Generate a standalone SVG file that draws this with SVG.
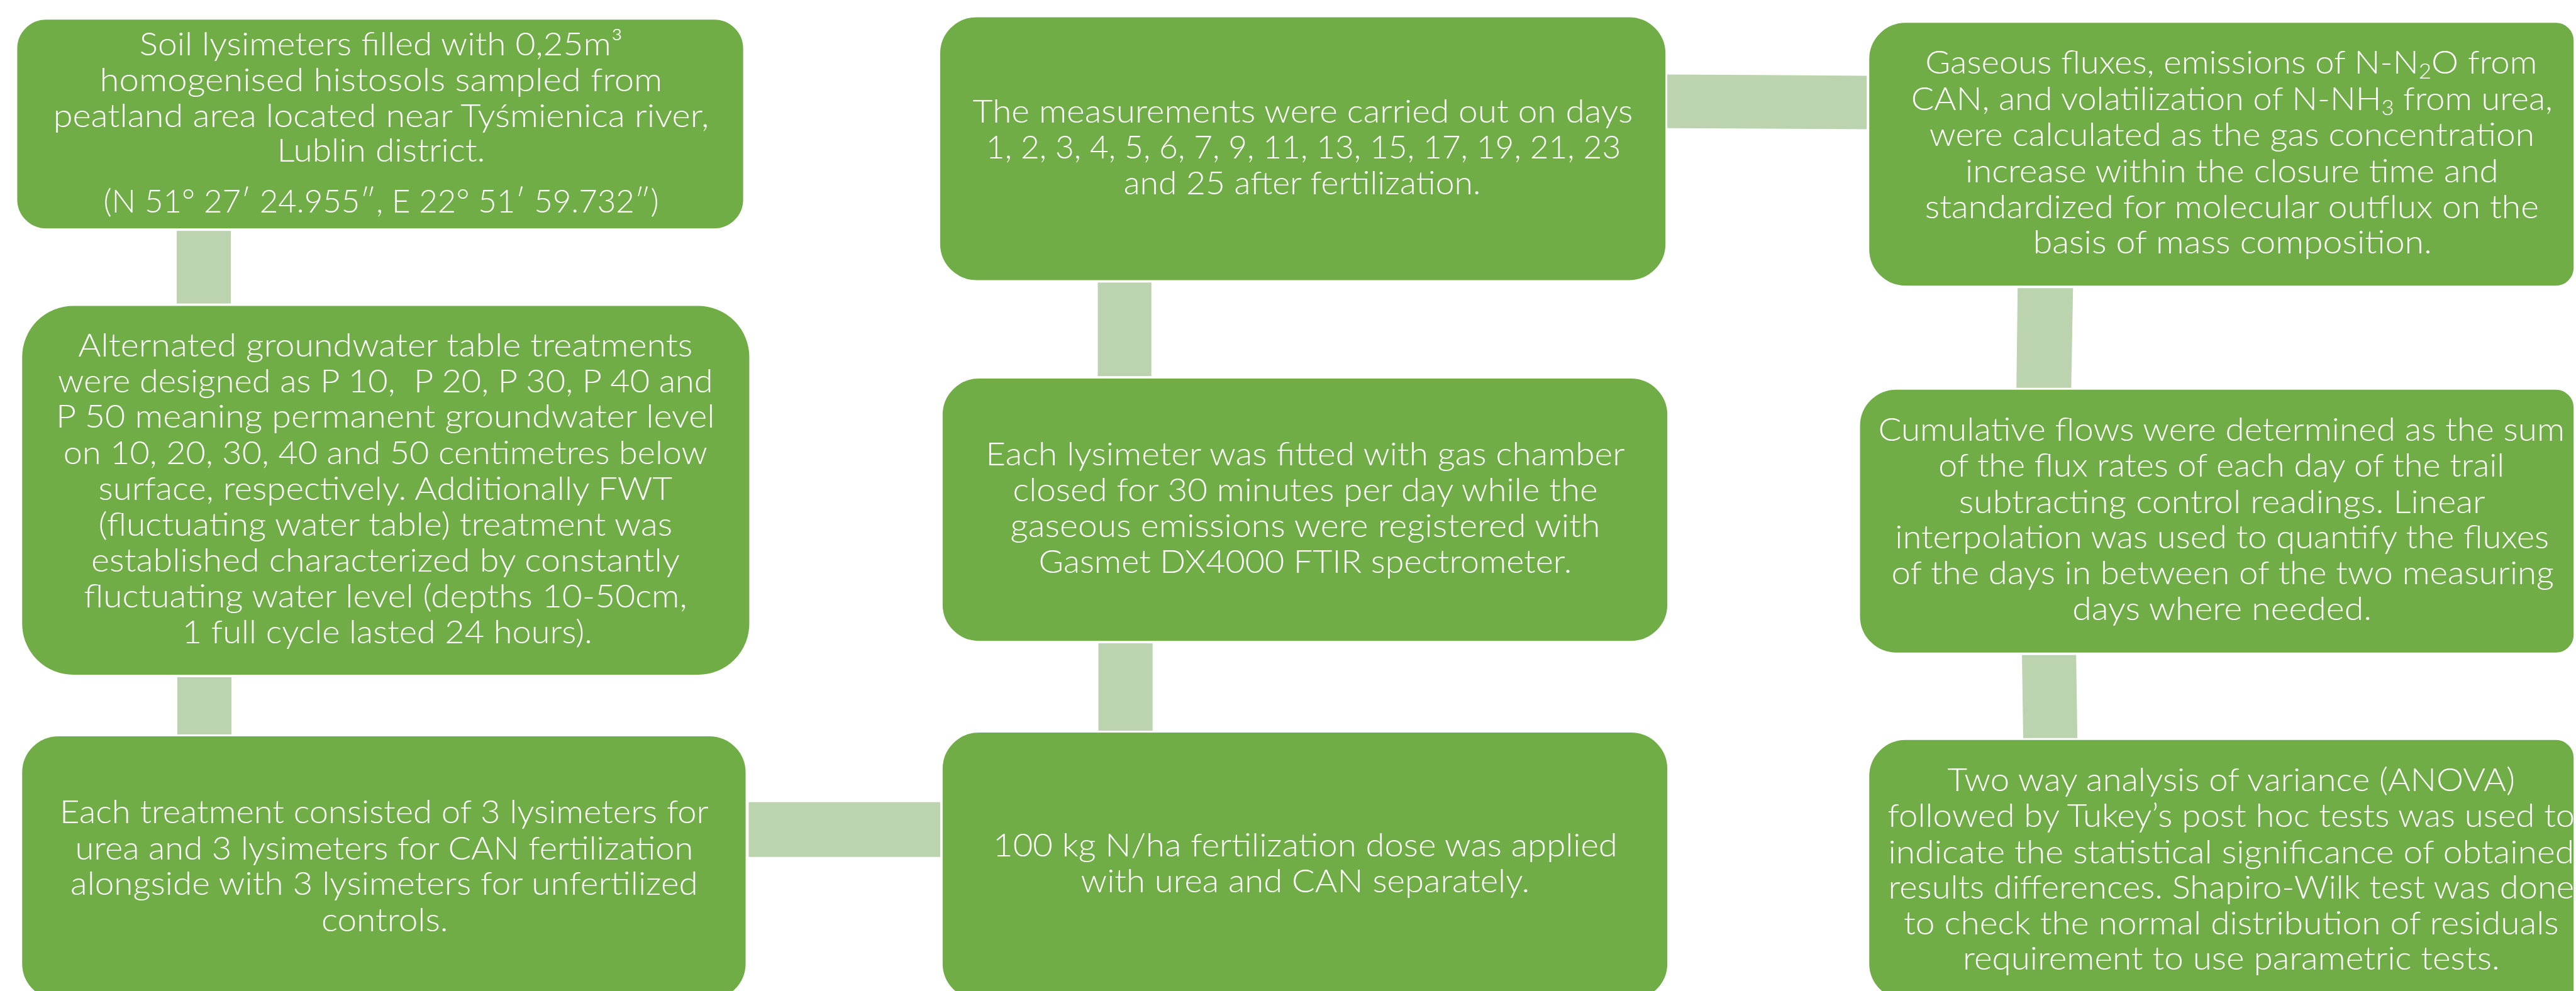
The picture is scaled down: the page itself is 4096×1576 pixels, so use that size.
<svg xmlns="http://www.w3.org/2000/svg" width="4096" height="1576" viewBox="0 0 4096 1576">
<style>
.box{fill:#70AD47;stroke:#ffffff;stroke-width:2}
.con{fill:#BCD3B0}
.t{font-family:Lato,"Open Sans","Liberation Sans",sans-serif;font-size:53px;font-weight:300;fill:#ffffff;text-anchor:middle}
.sub{font-size:34px}
</style>
<rect x="0" y="0" width="4096" height="1576" fill="#ffffff"/>
<g transform="scale(0.979)">
<g id="connectors">
<rect class="con" x="287" y="375" width="88" height="118"/>
<rect class="con" x="288" y="1100" width="88" height="93"/>
<rect class="con" x="1216" y="1303" width="311" height="89"/>
<rect class="con" x="1784" y="1045" width="88" height="142"/>
<rect class="con" x="1783" y="459" width="87" height="152"/>
<polygon class="con" points="2708,121 3032,123 3032,210 2708,208"/>
<polygon class="con" points="3277,468 3367,468 3364,630 3275,630"/>
<polygon class="con" points="3284,1064 3372,1064 3374,1199 3286,1199"/>
</g>
<g id="n1">
<rect class="box" x="27" y="31" width="1181" height="341" rx="48"/>
<text class="t" x="619" y="90" textLength="785" lengthAdjust="spacingAndGlyphs">Soil lysimeters filled with 0,25m³</text>
<text class="t" x="619" y="148" textLength="914" lengthAdjust="spacingAndGlyphs">homogenised histosols sampled from</text>
<text class="t" x="619" y="206" textLength="1065" lengthAdjust="spacingAndGlyphs">peatland area located near Tyśmienica river,</text>
<text class="t" x="619" y="263" textLength="338" lengthAdjust="spacingAndGlyphs">Lublin district.</text>
<text class="t" x="619" y="345" textLength="902" lengthAdjust="spacingAndGlyphs">(N 51° 27′ 24.955″, E 22° 51′ 59.732″)</text>
</g>
<g id="n2">
<rect class="box" x="35" y="496" width="1183" height="601" rx="84"/>
<text class="t" x="626" y="579" textLength="998" lengthAdjust="spacingAndGlyphs">Alternated groundwater table treatments</text>
<text class="t" x="626" y="637" textLength="1064" lengthAdjust="spacingAndGlyphs" xml:space="preserve">were designed as P 10,  P 20, P 30, P 40 and</text>
<text class="t" x="626" y="695" textLength="1070" lengthAdjust="spacingAndGlyphs">P 50 meaning permanent groundwater level</text>
<text class="t" x="626" y="754" textLength="1046" lengthAdjust="spacingAndGlyphs">on 10, 20, 30, 40 and 50 centimetres below</text>
<text class="t" x="626" y="812" textLength="932" lengthAdjust="spacingAndGlyphs">surface, respectively. Additionally FWT</text>
<text class="t" x="626" y="870" textLength="932" lengthAdjust="spacingAndGlyphs">(fluctuating water table) treatment was</text>
<text class="t" x="626" y="929" textLength="956" lengthAdjust="spacingAndGlyphs">established characterized by constantly</text>
<text class="t" x="626" y="987" textLength="980" lengthAdjust="spacingAndGlyphs">fluctuating water level (depths 10-50cm,</text>
<text class="t" x="629" y="1045" textLength="666" lengthAdjust="spacingAndGlyphs">1 full cycle lasted 24 hours).</text>
</g>
<g id="n3">
<rect class="box" x="35" y="1195" width="1177" height="430" rx="60"/>
<text class="t" x="624" y="1337" textLength="1054" lengthAdjust="spacingAndGlyphs">Each treatment consisted of 3 lysimeters for</text>
<text class="t" x="624" y="1396" textLength="1004" lengthAdjust="spacingAndGlyphs">urea and 3 lysimeters for CAN fertilization</text>
<text class="t" x="624" y="1454" textLength="1019" lengthAdjust="spacingAndGlyphs">alongside with 3 lysimeters for unfertilized</text>
<text class="t" x="625" y="1513" textLength="206" lengthAdjust="spacingAndGlyphs">controls.</text>
</g>
<g id="n4">
<rect class="box" x="1526" y="27" width="1180" height="429" rx="60"/>
<text class="t" x="2116" y="199" textLength="1072" lengthAdjust="spacingAndGlyphs">The measurements were carried out on days</text>
<text class="t" x="2117" y="257" textLength="1031" lengthAdjust="spacingAndGlyphs">1, 2, 3, 4, 5, 6, 7, 9, 11, 13, 15, 17, 19, 21, 23</text>
<text class="t" x="2115" y="316" textLength="580" lengthAdjust="spacingAndGlyphs">and 25 after fertilization.</text>
</g>
<g id="n5">
<rect class="box" x="1530" y="614" width="1179" height="428" rx="60"/>
<text class="t" x="2120" y="756" textLength="1038" lengthAdjust="spacingAndGlyphs">Each lysimeter was fitted with gas chamber</text>
<text class="t" x="2120" y="814" textLength="950" lengthAdjust="spacingAndGlyphs">closed for 30 minutes per day while the</text>
<text class="t" x="2120" y="872" textLength="958" lengthAdjust="spacingAndGlyphs">gaseous emissions were registered with</text>
<text class="t" x="2120" y="931" textLength="866" lengthAdjust="spacingAndGlyphs">Gasmet DX4000 FTIR spectrometer.</text>
</g>
<g id="n6">
<rect class="box" x="1530" y="1189" width="1179" height="436" rx="60"/>
<text class="t" x="2120" y="1391" textLength="1014" lengthAdjust="spacingAndGlyphs">100 kg N/ha fertilization dose was applied</text>
<text class="t" x="2120" y="1449" textLength="729" lengthAdjust="spacingAndGlyphs">with urea and CAN separately.</text>
</g>
<g id="n7">
<path class="box" d="M3095,36 H4151 A30,30 0 0 1 4181,66 V435 A30,30 0 0 1 4151,465 H3095 A60,60 0 0 1 3035,405 V96 A60,60 0 0 1 3095,36 Z"/>
<text class="t" x="3624" y="120" textLength="994" lengthAdjust="spacingAndGlyphs">Gaseous fluxes, emissions of N-N<tspan class="sub" dy="8">2</tspan><tspan dy="-8">O from</tspan></text>
<text class="t" x="3625" y="179" textLength="1042" lengthAdjust="spacingAndGlyphs">CAN, and volatilization of N-NH<tspan class="sub" dy="8">3</tspan><tspan dy="-8"> from urea,</tspan></text>
<text class="t" x="3625" y="237" textLength="983" lengthAdjust="spacingAndGlyphs">were calculated as the gas concentration</text>
<text class="t" x="3625" y="296" textLength="866" lengthAdjust="spacingAndGlyphs">increase within the closure time and</text>
<text class="t" x="3625" y="354" textLength="997" lengthAdjust="spacingAndGlyphs">standardized for molecular outflux on the</text>
<text class="t" x="3626" y="412" textLength="648" lengthAdjust="spacingAndGlyphs">basis of mass composition.</text>
</g>
<g id="n8">
<path class="box" d="M3080,632 H4151 A30,30 0 0 1 4181,662 V1031 A30,30 0 0 1 4151,1061 H3080 A60,60 0 0 1 3020,1001 V692 A60,60 0 0 1 3080,632 Z"/>
<text class="t" x="3608" y="716" textLength="1115" lengthAdjust="spacingAndGlyphs">Cumulative flows were determined as the sum</text>
<text class="t" x="3608" y="774" textLength="919" lengthAdjust="spacingAndGlyphs">of the flux rates of each day of the trail</text>
<text class="t" x="3609" y="833" textLength="855" lengthAdjust="spacingAndGlyphs">subtracting control readings. Linear</text>
<text class="t" x="3609" y="891" textLength="1062" lengthAdjust="spacingAndGlyphs">interpolation was used to quantify the fluxes</text>
<text class="t" x="3610" y="949" textLength="1076" lengthAdjust="spacingAndGlyphs">of the days in between of the two measuring</text>
<text class="t" x="3609" y="1007" textLength="486" lengthAdjust="spacingAndGlyphs">days where needed.</text>
</g>
<g id="n9">
<path class="box" d="M3095,1201 H4151 A30,30 0 0 1 4181,1231 V1625 H3095 A60,60 0 0 1 3035,1565 V1261 A60,60 0 0 1 3095,1201 Z"/>
<text class="t" x="3624" y="1285" textLength="922" lengthAdjust="spacingAndGlyphs">Two way analysis of variance (ANOVA)</text>
<text class="t" x="3624" y="1343" textLength="1116" lengthAdjust="spacingAndGlyphs">followed by Tukey’s post hoc tests was used to</text>
<text class="t" x="3624" y="1402" textLength="1114" lengthAdjust="spacingAndGlyphs">indicate the statistical significance of obtained</text>
<text class="t" x="3624" y="1460" textLength="1114" lengthAdjust="spacingAndGlyphs">results differences. Shapiro-Wilk test was done</text>
<text class="t" x="3624" y="1518" textLength="1064" lengthAdjust="spacingAndGlyphs">to check the normal distribution of residuals</text>
<text class="t" x="3624" y="1575" textLength="872" lengthAdjust="spacingAndGlyphs">requirement to use parametric tests.</text>
</g>
</g>
</svg>
